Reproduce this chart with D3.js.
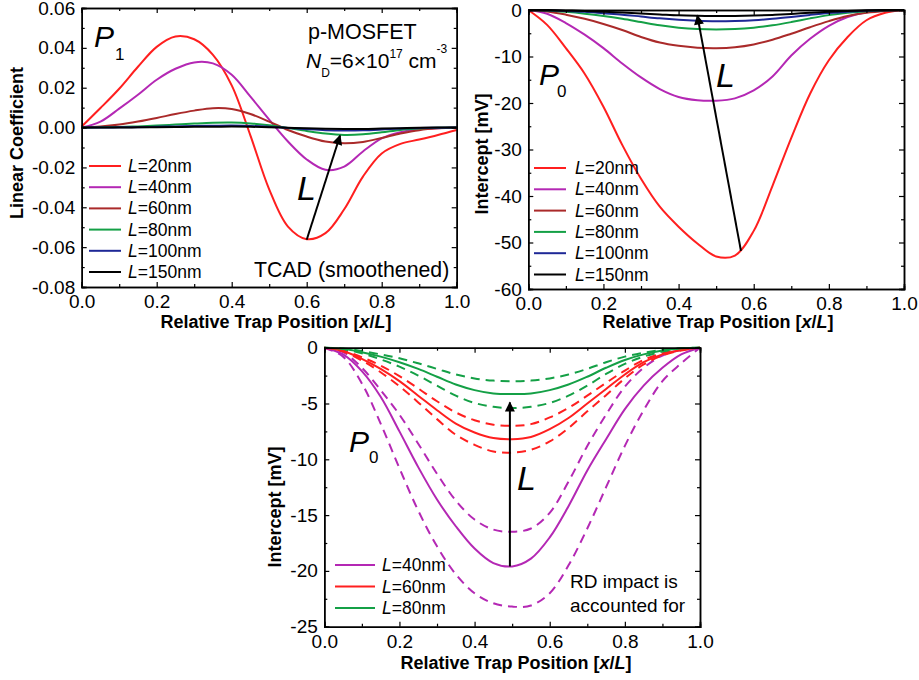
<!DOCTYPE html>
<html>
<head>
<meta charset="utf-8">
<script src="https://cdn.jsdelivr.net/npm/d3@7"></script>
<style>
  body { margin: 0; background: #fff; }
  svg { display: block; font-family: "Liberation Sans", Arial, sans-serif; }
</style>
</head>
<body>
<svg id="chart" width="919" height="680"></svg>
<script>
// ---------------- DATA ----------------
const trapPos = [0,0.05,0.1,0.15,0.2,0.25,0.3,0.35,0.4,0.45,0.5,0.55,0.6,0.65,0.7,0.75,0.8,0.85,0.9,0.95,1.0];

// Panel P1 : linear coefficient
const p1_L20  = [0.0005,0.0098,0.0195,0.0305,0.0405,0.0457,0.0443,0.0365,0.0212,-0.004,-0.031,-0.0497,-0.0560,-0.0530,-0.0410,-0.0246,-0.0130,-0.0082,-0.0060,-0.0037,-0.0012];
const p1_L40  = [0,0.003,0.0095,0.0165,0.024,0.0295,0.0327,0.0322,0.0265,0.0155,0.004,-0.007,-0.016,-0.0212,-0.0196,-0.012,-0.0054,-0.0023,-0.0008,-0.0003,0];
const p1_L60  = [0,0.0005,0.0015,0.003,0.0048,0.0068,0.0085,0.0097,0.0093,0.0068,0.003,-0.0012,-0.0045,-0.007,-0.0079,-0.0072,-0.0052,-0.003,-0.0013,-0.0004,0];
const p1_L80  = [0,0.0001,0.0003,0.0006,0.001,0.0015,0.002,0.0024,0.0025,0.0021,0.0012,-0.0002,-0.0017,-0.003,-0.0037,-0.0034,-0.0024,-0.0012,-0.0005,-0.0001,0];
const p1_L100 = [0,0,0.0001,0.0002,0.0004,0.0006,0.0008,0.0009,0.001,0.0008,0.0004,-0.0002,-0.0008,-0.0013,-0.0015,-0.0014,-0.001,-0.0005,-0.0002,-0.0001,0];
const p1_L150 = [0,0,0,0.0001,0.0002,0.0003,0.0004,0.0004,0.0005,0.0004,0.0002,-0.0001,-0.0004,-0.0006,-0.0007,-0.0007,-0.0005,-0.0003,-0.0001,0,0];

// Panel P0 : intercept [mV]
const p0_L20  = [0,-3.2,-8.2,-13.7,-20.8,-29.0,-36.3,-42.3,-46.6,-50.2,-53.0,-52.8,-47.5,-37.8,-27.5,-18.0,-10.8,-5.8,-2.2,-0.6,0];
const p0_L40  = [0,-0.8,-2.8,-5.3,-8.2,-11.5,-14.5,-17.0,-18.7,-19.4,-19.5,-19.0,-17.3,-14.3,-9.8,-6.2,-3.4,-1.5,-0.5,-0.1,0];
const p0_L60  = [0,-0.3,-1.0,-1.9,-3.0,-4.3,-5.8,-7.0,-7.7,-8.1,-8.2,-8.0,-7.4,-6.4,-5.1,-3.7,-2.4,-1.3,-0.6,-0.2,0];
const p0_L80  = [0,-0.1,-0.4,-0.8,-1.3,-1.9,-2.6,-3.3,-3.8,-4.1,-4.2,-4.1,-3.8,-3.3,-2.6,-1.8,-1.1,-0.6,-0.25,-0.05,0];
const p0_L100 = [0,-0.05,-0.2,-0.4,-0.7,-1.0,-1.4,-1.8,-2.1,-2.3,-2.4,-2.35,-2.2,-1.9,-1.5,-1.05,-0.65,-0.35,-0.15,-0.03,0];
const p0_L150 = [0,-0.02,-0.1,-0.2,-0.35,-0.55,-0.75,-0.95,-1.15,-1.25,-1.3,-1.28,-1.2,-1.05,-0.85,-0.6,-0.38,-0.2,-0.08,-0.02,0];

// Bottom panel : intercept with RD impact (solid = mean, dashed = bounds)
const rd_L40      = [0,-0.6,-2.1,-4.4,-7.5,-10.7,-13.6,-16.0,-18.0,-19.3,-19.6,-18.9,-17.0,-14.2,-11.0,-8.2,-5.5,-3.4,-1.8,-0.6,0];
const rd_L40_hi   = [0,-0.4,-1.8,-3.8,-6.0,-8.6,-11.3,-13.7,-15.4,-16.3,-16.5,-16.2,-14.8,-12.0,-8.8,-6.0,-3.5,-1.8,-0.7,-0.2,0];
const rd_L40_lo   = [0,-0.8,-3.2,-6.8,-10.8,-14.6,-17.8,-20.3,-22.0,-22.9,-23.2,-23.1,-22.0,-19.5,-16.2,-12.5,-8.8,-5.6,-3.0,-1.4,0];
const rd_L60      = [0,-0.3,-1.0,-1.9,-3.0,-4.3,-5.6,-6.8,-7.6,-8.1,-8.2,-8.0,-7.3,-6.3,-5.0,-3.7,-2.4,-1.3,-0.6,-0.2,0];
const rd_L60_hi   = [0,-0.25,-0.85,-1.6,-2.55,-3.65,-4.8,-5.8,-6.5,-6.9,-7.0,-6.85,-6.25,-5.4,-4.3,-3.15,-2.05,-1.1,-0.5,-0.15,0];
const rd_L60_lo   = [0,-0.35,-1.15,-2.2,-3.45,-4.9,-6.4,-7.8,-8.7,-9.3,-9.4,-9.15,-8.4,-7.2,-5.7,-4.25,-2.75,-1.5,-0.7,-0.25,0];
const rd_L80      = [0,-0.1,-0.4,-0.8,-1.3,-1.9,-2.6,-3.3,-3.8,-4.1,-4.15,-4.1,-3.8,-3.3,-2.6,-1.8,-1.1,-0.6,-0.25,-0.05,0];
const rd_L80_hi   = [0,-0.07,-0.3,-0.6,-0.95,-1.4,-1.9,-2.4,-2.75,-2.95,-3.0,-2.95,-2.75,-2.4,-1.9,-1.3,-0.8,-0.45,-0.2,-0.05,0];
const rd_L80_lo   = [0,-0.13,-0.5,-1.05,-1.7,-2.5,-3.4,-4.3,-4.95,-5.3,-5.4,-5.3,-4.95,-4.3,-3.4,-2.35,-1.45,-0.8,-0.35,-0.08,0];

// Legend labels
const legendTop = ["20nm","40nm","60nm","80nm","100nm","150nm"];
const legendBottom = ["40nm","60nm","80nm"];

// Tick values / labels
const xTickVals = [0,0.2,0.4,0.6,0.8,1.0];
const xTickLabels = ["0.0","0.2","0.4","0.6","0.8","1.0"];
const xMinorVals = [0.1,0.3,0.5,0.7,0.9];
const p1YTickVals = [-0.08,-0.06,-0.04,-0.02,0,0.02,0.04,0.06];
const p1YTickLabels = ["-0.08","-0.06","-0.04","-0.02","0.00","0.02","0.04","0.06"];
const p1YMinor = [-0.07,-0.05,-0.03,-0.01,0.01,0.03,0.05];
const p0YTickVals = [-60,-50,-40,-30,-20,-10,0];
const p0YTickLabels = ["-60","-50","-40","-30","-20","-10","0"];
const p0YMinor = [-55,-45,-35,-25,-15,-5];
const rdYTickVals = [-25,-20,-15,-10,-5,0];
const rdYTickLabels = ["-25","-20","-15","-10","-5","0"];
const rdYMinor = [-22.5,-17.5,-12.5,-7.5,-2.5];

// Arrows (data coords: [x, y] start -> end)
const arrowP1 = [[0.600,-0.0563],[0.689,-0.0040]];
const arrowP0 = [[0.566,-51.8],[0.450,-1.2]];
const arrowRD = [[0.494,-19.6],[0.494,-4.9]];

// ---------------- DRAW ----------------
const svg = d3.select("#chart");
const FONT = '"Liberation Sans", Arial, sans-serif';

svg.append("defs").append("marker")
  .attr("id","arrowhead").attr("viewBox","0 0 10 10")
  .attr("refX",9).attr("refY",5)
  .attr("markerWidth",6).attr("markerHeight",5)
  .attr("markerUnits","strokeWidth").attr("orient","auto")
  .append("path").attr("d","M0,0 L10,5 L0,10 Z").attr("fill","#000");

function panel(cfg) {
  const x = d3.scaleLinear().domain([0,1]).range([cfg.left, cfg.right]);
  const y = d3.scaleLinear().domain(cfg.yDomain).range([cfg.bottom, cfg.top]);
  const g = svg.append("g");

  // curves
  const line = d3.line().x((d,i)=>x(trapPos[i])).y(d=>y(d)).curve(d3.curveCatmullRom.alpha(0.5));
  cfg.series.forEach(s => {
    g.append("path").attr("d", line(s.values))
      .attr("fill","none").attr("stroke", s.color).attr("stroke-width", 2)
      .attr("stroke-dasharray", s.dash || null);
  });

  // axes
  const fmtX = (d,i)=>xTickLabels[i];
  g.append("g").attr("transform",`translate(0,${cfg.bottom})`)
    .call(d3.axisBottom(x).tickValues(xTickVals).tickFormat(fmtX).tickSize(-5).tickPadding(7.5));
  g.append("g").attr("transform",`translate(0,${cfg.bottom})`)
    .call(d3.axisBottom(x).tickValues(xMinorVals).tickFormat("").tickSize(-3));
  g.append("g").attr("transform",`translate(0,${cfg.top})`)
    .call(d3.axisTop(x).tickValues(xTickVals).tickFormat("").tickSize(-5));
  g.append("g").attr("transform",`translate(0,${cfg.top})`)
    .call(d3.axisTop(x).tickValues(xMinorVals).tickFormat("").tickSize(-3));

  const fmtY = (d,i)=>cfg.yLabels[i];
  g.append("g").attr("transform",`translate(${cfg.left},0)`)
    .call(d3.axisLeft(y).tickValues(cfg.yTicks).tickFormat(fmtY).tickSize(-5).tickPadding(6.5));
  g.append("g").attr("transform",`translate(${cfg.left},0)`)
    .call(d3.axisLeft(y).tickValues(cfg.yMinor).tickFormat("").tickSize(-3));
  g.append("g").attr("transform",`translate(${cfg.right},0)`)
    .call(d3.axisRight(y).tickValues(cfg.yTicks).tickFormat("").tickSize(-5));
  g.append("g").attr("transform",`translate(${cfg.right},0)`)
    .call(d3.axisRight(y).tickValues(cfg.yMinor).tickFormat("").tickSize(-3));

  g.selectAll(".domain").attr("stroke","#000").attr("stroke-width",1.5);
  g.selectAll(".tick line").attr("stroke","#000").attr("stroke-width",1.2);
  g.selectAll(".tick text").attr("font-family",FONT).attr("font-size",19).attr("fill","#000");

  // axis titles
  const xt = g.append("text").attr("x",cfg.xTitleX).attr("y",cfg.xTitleY)
    .attr("text-anchor","middle").attr("font-family",FONT).attr("font-size",18)
    .attr("font-weight","bold");
  xt.append("tspan").text("Relative Trap Position [");
  xt.append("tspan").attr("font-style","italic").text("x");
  xt.append("tspan").text("/");
  xt.append("tspan").attr("font-style","italic").text("L");
  xt.append("tspan").text("]");

  g.append("text").attr("transform",`translate(${cfg.yTitleX},${cfg.yTitleY}) rotate(-90)`)
    .attr("text-anchor","middle").attr("dy","0.35em")
    .attr("font-family",FONT).attr("font-size",18).attr("font-weight","bold")
    .text(cfg.yTitle);

  // legend
  cfg.legend.forEach((it,i) => {
    const yy = cfg.legY0 + i*cfg.legDy;
    g.append("line").attr("x1",cfg.legX1).attr("x2",cfg.legX2).attr("y1",yy).attr("y2",yy)
      .attr("stroke",it.color).attr("stroke-width",2);
    const t = g.append("text").attr("x",cfg.legTX).attr("y",yy+6)
      .attr("font-family",FONT).attr("font-size",17.5);
    t.append("tspan").attr("font-style","italic").text("L");
    t.append("tspan").text("=" + it.label);
  });

  // arrow
  g.append("line")
    .attr("x1",x(cfg.arrow[0][0])).attr("y1",y(cfg.arrow[0][1]))
    .attr("x2",x(cfg.arrow[1][0])).attr("y2",y(cfg.arrow[1][1]))
    .attr("stroke","#000").attr("stroke-width",2).attr("marker-end","url(#arrowhead)");

  return {g, x, y};
}

function label(txt, x, y, size, opts={}) {
  return svg.append("text").attr("x",x).attr("y",y).attr("font-family",FONT)
    .attr("font-size",size).attr("font-style",opts.italic?"italic":null)
    .attr("text-anchor",opts.anchor||null).text(txt);
}

const topColors = ["#ff1f1f","#b428b4","#aa2a2a","#14a046","#1e2896","#000000"];

// Panel 1
panel({
  left:81.7, right:456.7, top:8, bottom:287,
  yDomain:[-0.08,0.06], yTicks:p1YTickVals, yLabels:p1YTickLabels, yMinor:p1YMinor,
  series:[p1_L20,p1_L40,p1_L60,p1_L80,p1_L100,p1_L150].map((v,i)=>({values:v,color:topColors[i]})),
  xTitleX:276, xTitleY:328, yTitle:"Linear Coefficient", yTitleX:17, yTitleY:143,
  legend: legendTop.map((l,i)=>({label:l,color:topColors[i]})),
  legX1:89, legX2:121, legTX:128, legY0:166, legDy:21.2,
  arrow: arrowP1
});
// Panel 2
panel({
  left:528.3, right:904, top:10, bottom:289,
  yDomain:[-60,0], yTicks:p0YTickVals, yLabels:p0YTickLabels, yMinor:p0YMinor,
  series:[p0_L20,p0_L40,p0_L60,p0_L80,p0_L100,p0_L150].map((v,i)=>({values:v,color:topColors[i]})),
  xTitleX:718, xTitleY:328, yTitle:"Intercept [mV]", yTitleX:482, yTitleY:154,
  legend: legendTop.map((l,i)=>({label:l,color:topColors[i]})),
  legX1:534, legX2:566, legTX:575, legY0:168, legDy:21.3,
  arrow: arrowP0
});
// Panel 3
const botColors = ["#b428b4","#ff1f1f","#14a046"];
const DASH = "9,6";
panel({
  left:324.3, right:700, top:347.7, bottom:626.7,
  yDomain:[-25,0], yTicks:rdYTickVals, yLabels:rdYTickLabels, yMinor:rdYMinor,
  series:[
    {values:rd_L40_hi,color:botColors[0],dash:DASH},{values:rd_L40_lo,color:botColors[0],dash:DASH},
    {values:rd_L60_hi,color:botColors[1],dash:DASH},{values:rd_L60_lo,color:botColors[1],dash:DASH},
    {values:rd_L80_hi,color:botColors[2],dash:DASH},{values:rd_L80_lo,color:botColors[2],dash:DASH},
    {values:rd_L40,color:botColors[0]},{values:rd_L60,color:botColors[1]},{values:rd_L80,color:botColors[2]}
  ],
  xTitleX:516, xTitleY:669, yTitle:"Intercept [mV]", yTitleX:275, yTitleY:507,
  legend: legendBottom.map((l,i)=>({label:l,color:botColors[i]})),
  legX1:335, legX2:375, legTX:382, legY0:565, legDy:21.5,
  arrow: arrowRD
});

// Annotations panel 1
label("P",94,47,30,{italic:true});
label("1",115,60,17);
label("p-MOSFET",308,39,21.5);
const nd = svg.append("text").attr("x",306).attr("y",68).attr("font-family",FONT).attr("font-size",21);
nd.append("tspan").attr("font-style","italic").text("N");
nd.append("tspan").attr("font-size",12).attr("dy",9).text("D");
nd.append("tspan").attr("dy",-9).text("=6×10");
nd.append("tspan").attr("font-size",12).attr("dy",-10).text("17");
nd.append("tspan").attr("dy",10).text(" cm");
nd.append("tspan").attr("font-size",12).attr("dy",-15).text("-3");
label("TCAD (smoothened)",254,277,21.3);
label("L",297,200,34,{italic:true});

// Annotations panel 2
label("P",539,85,30,{italic:true});
label("0",557,97,17);
label("L",716,87,34,{italic:true});

// Annotations panel 3
label("P",349,452,30,{italic:true});
label("0",369,463,17);
label("L",517,490,34,{italic:true});
label("RD impact is",570,588,19);
label("accounted for",570,612,19);
</script>
</body>
</html>
